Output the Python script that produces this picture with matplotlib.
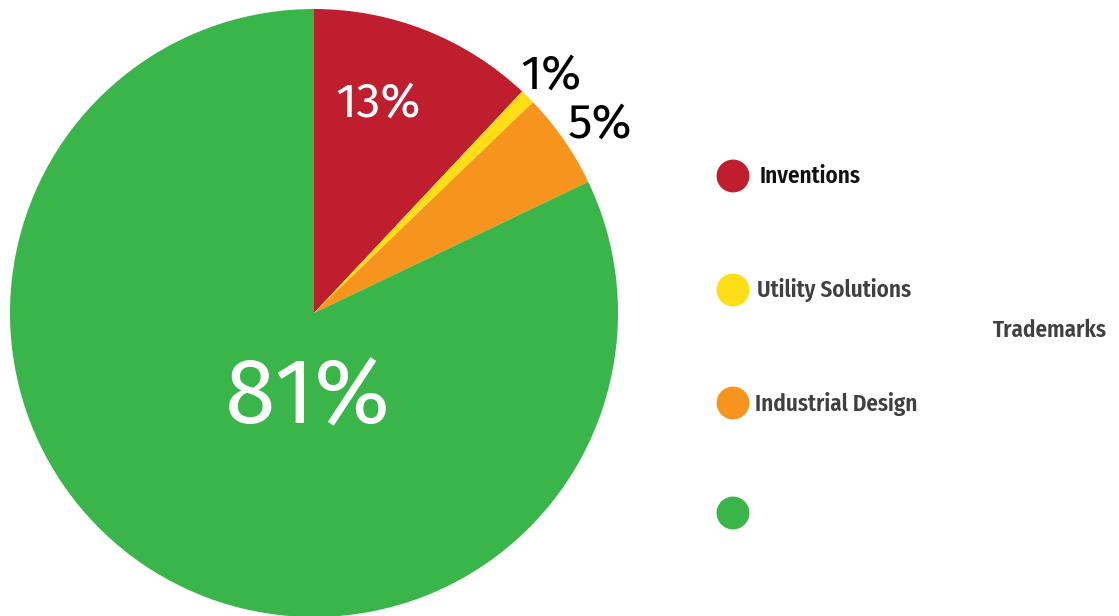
import matplotlib.pyplot as plt
import matplotlib.font_manager as fm

# data
categories = ["Inventions", "Utility Solutions", "Industrial Design", "Trademarks"]
shares = [12.0, 0.8, 5.1, 82.1]
pct_labels = ["13%", "1%", "5%", "81%"]
colors = ["#BE1E2D", "#FFDD17", "#F7941D", "#39B54A"]

W, H = 1119, 616
fig = plt.figure(figsize=(W / 100, H / 100), dpi=100)


def px_axes(x0, y0, w, h):
    # axes from pixel box (top-left origin)
    return fig.add_axes([x0 / W, 1 - (y0 + h) / H, w / W, h / H])


def find_font(files, fallback):
    files_found = {f.fname.split("/")[-1]: f.fname for f in fm.fontManager.ttflist}
    for name in files:
        if name in files_found:
            return fm.FontProperties(fname=files_found[name])
    return fm.FontProperties(family=fallback[0], weight=fallback[1])


legend_font = find_font(["FiraSansCondensed-SemiBold.ttf", "AsapCondensed-Bold.ttf",
                         "DejaVuSansCondensed-Bold.ttf"], ("DejaVu Sans", "bold"))
pct_font = find_font(["SourceSans3-Regular.ttf", "SourceSansPro-Regular.ttf",
                      "FiraSans-Regular.ttf", "PTSans-Regular.ttf"], ("Noto Sans", "normal"))

# pie
ax = px_axes(10, 9, 608, 608)
wedges, _ = ax.pie(shares, colors=colors, startangle=90, counterclock=False,
                   radius=1, wedgeprops=dict(linewidth=0))
ax.set_xlim(-1, 1)
ax.set_ylim(-1, 1)
ax.set_aspect("equal")
ax.axis("off")

# percentage labels
label_pos = [(0.21, 0.69), (0.78, 0.78), (0.94, 0.62), (-0.02, -0.28)]
label_col = ["white", "black", "black", "white"]
label_size = [35, 35, 35, 66]
for txt, (lx, ly), c, s in zip(pct_labels, label_pos, label_col, label_size):
    ax.text(lx, ly, txt, color=c, fontproperties=pct_font, fontsize=s,
            ha="center", va="center")

# legend
leg = px_axes(700, 150, 419, 400)
leg.set_xlim(0, 419)
leg.set_ylim(400, 0)
leg.axis("off")
marker_y = [26, 140, 253, 363]
leg.scatter([33] * 4, marker_y, s=560, c=colors, linewidths=0)
text_xy = [(60, 26), (57, 140), (55, 254), (293, 180)]
text_col = ["#111111", "#404040", "#404040", "#404040"]
for name, (tx, ty), c in zip(categories, text_xy, text_col):
    leg.text(tx, ty, name, color=c, fontproperties=legend_font, fontsize=16.6,
             ha="left", va="center")

fig.savefig("out.png", dpi=100)
